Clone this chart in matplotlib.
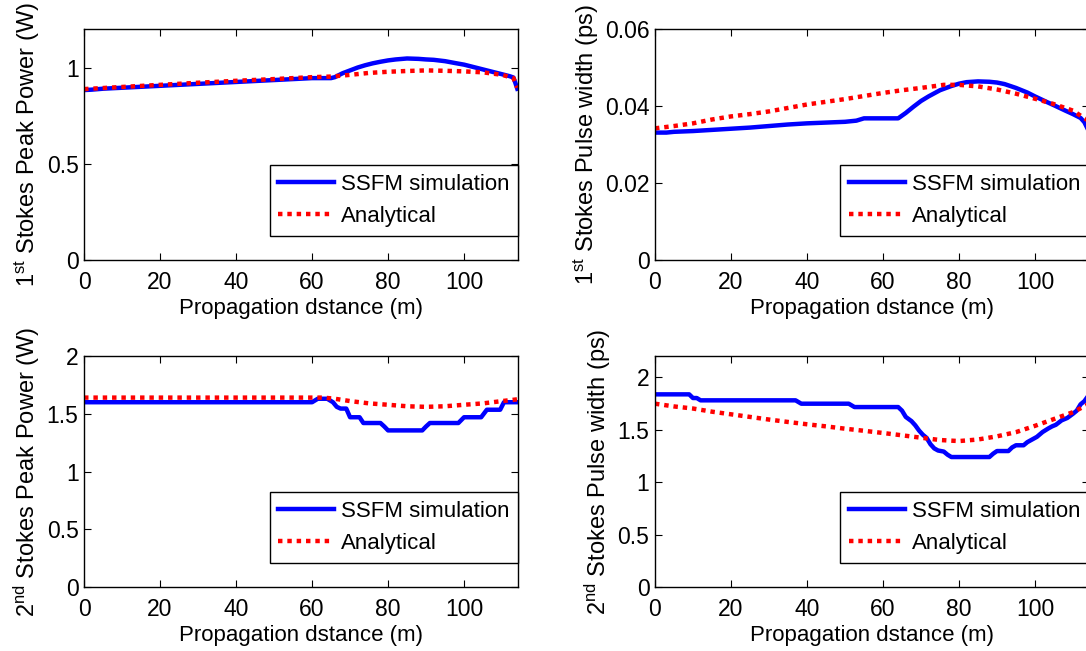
import matplotlib
matplotlib.use('Agg')
import matplotlib.pyplot as plt
from matplotlib.ticker import FuncFormatter

# 1st Stokes peak power (W)
p1_sim_x = [0, 2, 5, 10, 15, 20, 25, 30, 35, 40, 45, 50, 55, 60, 65, 66, 68, 70, 72, 74, 76, 78,
            80, 82, 85, 88, 90, 92, 95, 98, 100, 102, 105, 108, 110, 112, 113, 113.5, 114]
p1_sim_y = [0.883, 0.885, 0.89, 0.895, 0.90, 0.905, 0.91, 0.915, 0.92, 0.925, 0.93, 0.935, 0.94,
            0.945, 0.945, 0.95, 0.97, 0.985, 1.0, 1.012, 1.022, 1.03, 1.037, 1.042, 1.047, 1.045,
            1.042, 1.04, 1.033, 1.022, 1.015, 1.005, 0.99, 0.975, 0.965, 0.955, 0.948, 0.92, 0.89]
p1_ana_x = [0, 10, 20, 30, 40, 50, 60, 65, 70, 75, 80, 85, 90, 95, 100, 105, 110, 113, 114]
p1_ana_y = [0.888, 0.899, 0.91, 0.921, 0.931, 0.94, 0.95, 0.953, 0.962, 0.972, 0.978, 0.982,
            0.985, 0.983, 0.98, 0.975, 0.962, 0.945, 0.895]

# 1st Stokes pulse width (ps)
w1_sim_x = [0, 3, 5, 10, 15, 20, 25, 30, 35, 40, 45, 50, 53, 55, 64, 66, 68, 70, 72, 75, 78, 80,
            82, 85, 88, 90, 92, 95, 98, 100, 103, 105, 108, 110, 112, 113, 114]
w1_sim_y = [0.0331, 0.0331, 0.0333, 0.0335, 0.0338, 0.0341, 0.0344, 0.0348, 0.0352, 0.0355,
            0.0357, 0.0359, 0.0362, 0.0368, 0.0368, 0.0382, 0.0398, 0.0413, 0.0425, 0.0441,
            0.0452, 0.0458, 0.0462, 0.0464, 0.0463, 0.0461, 0.0457, 0.0447, 0.0435, 0.0425,
            0.0411, 0.0402, 0.0388, 0.0379, 0.0369, 0.0358, 0.0338]
w1_ana_x = [0, 5, 10, 15, 20, 25, 30, 35, 40, 45, 50, 55, 60, 65, 70, 76, 80, 85, 90, 95, 100,
            105, 110, 114]
w1_ana_y = [0.0342, 0.0348, 0.0355, 0.0365, 0.0373, 0.0379, 0.0386, 0.0395, 0.0404, 0.0411,
            0.0418, 0.0426, 0.0434, 0.0441, 0.0447, 0.0455, 0.0455, 0.0451, 0.0443, 0.0432,
            0.0419, 0.0405, 0.0388, 0.0362]

# 2nd Stokes peak power (W)
p2_sim_x = [0, 60, 61.5, 64, 65.5, 66.5, 67.5, 69, 70, 72.5, 73.5, 78, 79, 80, 89, 90, 91, 98.5,
            100, 104.5, 106, 109.5, 110.5, 114]
p2_sim_y = [1.60, 1.60, 1.63, 1.63, 1.60, 1.56, 1.545, 1.545, 1.47, 1.47, 1.42, 1.42, 1.39,
            1.356, 1.356, 1.39, 1.42, 1.42, 1.47, 1.47, 1.535, 1.535, 1.60, 1.60]
p2_ana_x = [0, 40, 60, 63, 66, 70, 75, 80, 85, 90, 95, 100, 105, 110, 114]
p2_ana_y = [1.64, 1.64, 1.64, 1.64, 1.63, 1.61, 1.59, 1.578, 1.565, 1.56, 1.565, 1.578, 1.59,
            1.61, 1.625]

# 2nd Stokes pulse width (ps)
w2_sim_x = [0, 9, 10, 11, 12, 37, 38.5, 51, 52.5, 64, 65, 66, 67.5, 68.5, 69.5, 70.5, 71.5, 72.5,
            73.5, 74.5, 76, 77, 78, 88, 89, 90, 93, 94, 95, 97, 98, 99.5, 100.5, 102, 103.5,
            104.5, 105.5, 107, 108.5, 110, 111, 112, 113, 114]
w2_sim_y = [1.835, 1.835, 1.80, 1.80, 1.778, 1.778, 1.746, 1.746, 1.714, 1.714, 1.68, 1.62, 1.58,
            1.54, 1.49, 1.45, 1.42, 1.36, 1.32, 1.30, 1.29, 1.26, 1.238, 1.238, 1.27, 1.295,
            1.295, 1.33, 1.35, 1.35, 1.38, 1.41, 1.43, 1.476, 1.51, 1.53, 1.545, 1.587, 1.61,
            1.65, 1.68, 1.74, 1.77, 1.82]
w2_ana_x = [0, 5, 10, 15, 20, 25, 30, 35, 40, 45, 50, 55, 60, 65, 70, 75, 80, 85, 90, 95, 100,
            105, 110, 114]
w2_ana_y = [1.746, 1.72, 1.70, 1.67, 1.645, 1.62, 1.595, 1.572, 1.55, 1.53, 1.508, 1.488, 1.467,
            1.445, 1.422, 1.40, 1.39, 1.405, 1.435, 1.475, 1.535, 1.60, 1.665, 1.74]

xticks = [0, 20, 40, 60, 80, 100]
xlabel = 'Propagation dstance (m)'
legend_labels = ['SSFM simulation', 'Analytical']

plt.rcParams['font.family'] = ['Liberation Sans', 'DejaVu Sans']
plt.rcParams['mathtext.fontset'] = 'custom'
plt.rcParams['mathtext.rm'] = 'Liberation Sans'
plt.rcParams['mathtext.it'] = 'Liberation Sans'
plt.rcParams['font.size'] = 16

fig = plt.figure(figsize=(10.86, 6.51), dpi=100)

# axes boxes in figure fractions (right column runs off the edge like the source)
w, h = 0.3996, 0.3548
panels = [
    ([0.0774, 0.6006, w, h], p1_sim_x, p1_sim_y, p1_ana_x, p1_ana_y, (0, 1.2), [0, 0.5, 1],
     r'1$^{\rm st}$ Stokes Peak Power (W)'),
    ([0.6031, 0.6006, w, h], w1_sim_x, w1_sim_y, w1_ana_x, w1_ana_y, (0, 0.06), [0, 0.02, 0.04, 0.06],
     r'1$^{\rm st}$ Stokes Pulse width (ps)'),
    ([0.0774, 0.0983, w, h], p2_sim_x, p2_sim_y, p2_ana_x, p2_ana_y, (0, 2), [0, 0.5, 1, 1.5, 2],
     r'2$^{\rm nd}$ Stokes Peak Power (W)'),
    ([0.6031, 0.0983, w, h], w2_sim_x, w2_sim_y, w2_ana_x, w2_ana_y, (0, 2.2), [0, 0.5, 1, 1.5, 2],
     r'2$^{\rm nd}$ Stokes Pulse width (ps)'),
]

for rect, sx, sy, ax_, ay, ylim, yticks, ylabel in panels:
    ax = fig.add_axes(rect)
    ax.plot(sx, sy, color='#0000ff', lw=3.2, label=legend_labels[0])
    ax.plot(ax_, ay, color='#ff0000', lw=3.2, linestyle=(0, (1, 1.1)), label=legend_labels[1])
    ax.set_xlim(0, 114.2)
    ax.set_ylim(*ylim)
    ax.set_xticks(xticks)
    ax.set_yticks(yticks)
    ax.yaxis.set_major_formatter(FuncFormatter(lambda v, pos: '%g' % v))
    ax.tick_params(direction='in', top=True, right=True, length=5, width=0.8, labelsize=16.5)
    ax.tick_params(axis='x', pad=8)
    ax.tick_params(axis='y', pad=4)
    for sp in ax.spines.values():
        sp.set_linewidth(1.0)
    ax.set_xlabel(xlabel, fontsize=16, labelpad=3)
    ax.set_ylabel(ylabel, fontsize=17, labelpad=3)
    leg = ax.legend(loc='lower right', bbox_to_anchor=(1.0, 0.105), borderaxespad=0,
                    fancybox=False, framealpha=1, edgecolor='black', fontsize=16,
                    handlelength=2.5, handletextpad=0.3, borderpad=0.4, labelspacing=0.5)
    leg.get_frame().set_linewidth(1.0)

plt.savefig('out.png', dpi=100)
